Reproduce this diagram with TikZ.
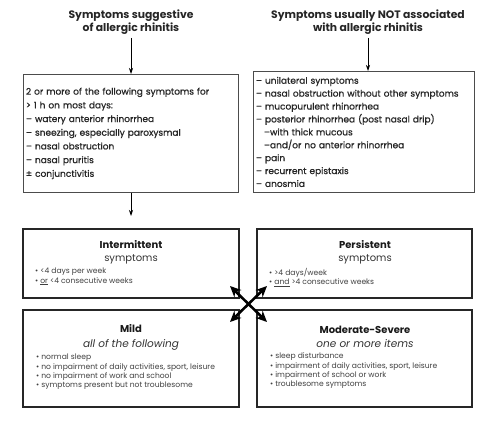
\documentclass[tikz,border=0pt]{standalone}
\usepackage{fontspec}
\setmainfont{Poppins}
\newfontfamily\listfont{Poppins}[FakeBold=0.8]
\usetikzlibrary{arrows.meta,positioning}

\begin{document}
\begin{tikzpicture}[x=1pt,y=-1pt,
        heading/.style={font=\fontsize{10.8}{13}\selectfont\bfseries, align=center, text=black!85},
        listbox/.style={draw=black!70, line width=0.9pt, align=left, inner xsep=2.5pt, anchor=north west, text=black!85},
        catbox/.style={draw=black!85, line width=1.1pt},
        cattitle/.style={font=\fontsize{10}{12}\selectfont\bfseries, text=black!90},
        catsub/.style={font=\fontsize{10}{12}\selectfont, text=black!80},
        catitems/.style={align=left, anchor=north west, inner sep=0pt, font=\fontsize{7.6}{9.2}\selectfont, text=black!75},
        link/.style={-{Stealth[length=6pt,width=4pt]}, line width=0.7pt},
        swap/.style={{Stealth[length=11pt,width=10pt]}-{Stealth[length=11pt,width=10pt]}, line width=2.6pt}]

        \useasboundingbox[fill=white] (0,0) rectangle (490,422);

        % headings
        \node[heading] (sugg) at (131,22) {Symptoms suggestive\\of allergic rhinitis};
        \node[heading] (notas) at (368,22) {Symptoms usually NOT associated\\with allergic rhinitis};

        % symptom lists
        \node[listbox, text width=210, minimum height=118, font=\listfont\fontsize{9}{13.7}\selectfont] (sugglist) at (23,74) {
            2 or more of the following symptoms for\\
            > 1 h on most days:\\
            – watery anterior rhinorrhea\\
            – sneezing, especially paroxysmal\\
            – nasal obstruction\\
            – nasal pruritis\\
            ± conjunctivitis};
        \node[listbox, text width=216, minimum height=121, font=\listfont\fontsize{9}{12.9}\selectfont] (notaslist) at (253,71) {
            – unilateral symptoms\\
            – nasal obstruction without other symptoms\\
            – mucopurulent rhinorrhea\\
            – posterior rhinorrhea (post nasal drip)\\
            \hspace*{8pt}–with thick mucous\\
            \hspace*{8pt}–and/or no anterior rhinorrhea\\
            – pain\\
            – recurrent epistaxis\\
            – anosmia};

        \coordinate (down) at (131,216);
        \draw[link] (sugg) -- (sugglist.north -| sugg);
        \draw[link] (notas) -- (notaslist.north -| notas);
        \draw[link] (sugglist.south -| down) -- (down);

        % classification boxes
        \node[catbox, minimum width=216, minimum height=69] (inter) at (131,263.5) {};
        \node[catbox, minimum width=215, minimum height=69] (persist) at (364.5,263.5) {};
        \node[catbox, minimum width=216, minimum height=97] (mild) at (131,358.5) {};
        \node[catbox, minimum width=215, minimum height=97] (modsev) at (364.5,358.5) {};

        \node[cattitle] (interT) at (131,245) {Intermittent};
        \node[catsub] (interS) at (131,259) {symptoms};
        \node[catitems] (interL) at (35,268) {• <4 days per week\\• \underline{or} <4 consecutive weeks};

        \node[cattitle] (persistT) at (365,245) {Persistent};
        \node[catsub] (persistS) at (365,259) {symptoms};
        \node[catitems] (persistL) at (269,268) {• >4 days/week\\• \underline{and} >4 consecutive weeks};

        \node[cattitle] (mildT) at (131,329) {Mild};
        \node[catsub, font=\fontsize{10.5}{12}\selectfont\itshape] (mildS) at (131,345) {all of the following};
        \node[catitems] (mildL) at (36,354) {• normal sleep\\
            • no impairment of daily activities, sport, leisure\\
            • no impairment of work and school\\
            • symptoms present but not troublesome};

        \node[cattitle] (modsevT) at (365,330) {Moderate-Severe};
        \node[catsub, font=\fontsize{10.5}{12}\selectfont\itshape] (modsevS) at (365,344) {one or more items};
        \node[catitems] (modsevL) at (270,353) {• sleep disturbance\\
            • impairment of daily activities, sport, leisure\\
            • impairment of school or work\\
            • troublesome symptoms};

        % crossing arrows
        \coordinate (xa) at (230,286);
        \coordinate (xb) at (267,322);
        \coordinate (xc) at (267,286);
        \coordinate (xd) at (230,322);
        \draw[swap] (xa) -- (xb);
        \draw[swap] (xc) -- (xd);

    \end{tikzpicture}
\end{document}
